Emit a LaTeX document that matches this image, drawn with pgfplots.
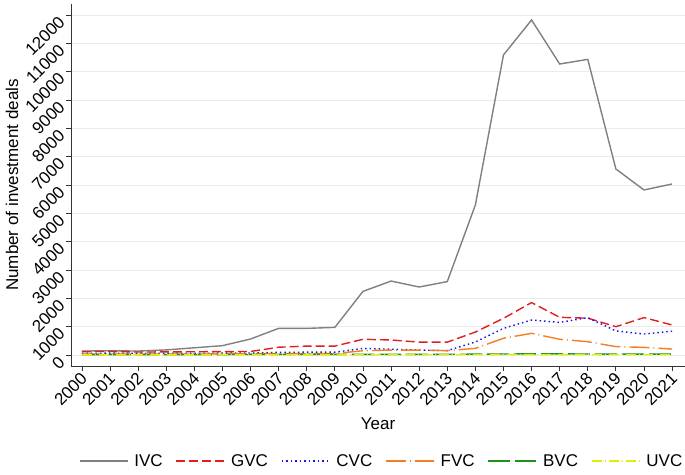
\documentclass[border=0pt]{standalone}
\usepackage{pgfplots}
\pgfplotsset{compat=1.18}
\usepackage{fontspec}
\setmainfont{Liberation Sans}
\definecolor{cIVC}{RGB}{128,128,128}
\definecolor{cGVC}{RGB}{225,30,30}
\definecolor{cCVC}{RGB}{20,20,240}
\definecolor{cFVC}{RGB}{245,125,35}
\definecolor{cBVC}{RGB}{30,145,30}
\definecolor{cUVC}{RGB}{225,240,0}
\definecolor{gridc}{RGB}{235,235,235}
\pgfplotstableread{
year IVC GVC CVC FVC BVC UVC
2000 140 120 60 30 15 5
2001 150 125 65 35 15 5
2002 140 105 60 30 15 5
2003 180 110 55 30 15 5
2004 255 115 60 35 15 5
2005 330 120 65 40 15 5
2006 565 125 70 45 20 5
2007 940 275 95 50 20 5
2008 940 315 100 50 20 5
2009 975 315 100 55 20 5
2010 2245 555 230 150 25 10
2011 2610 530 205 175 25 10
2012 2400 455 175 170 25 10
2013 2590 455 155 155 25 10
2014 5295 810 460 235 30 10
2015 10590 1295 940 590 35 15
2016 11825 1850 1235 765 40 15
2017 10270 1330 1150 555 40 15
2018 10435 1300 1320 470 35 15
2019 6565 1000 850 295 30 10
2020 5825 1320 740 270 30 10
2021 6035 1060 840 210 30 10
}\datatable
\newcommand{\fs}{\fontsize{17}{20}\selectfont}
\begin{document}
\begin{tikzpicture}
\begin{axis}[
  scale only axis,
  width=614pt, height=362pt,
  xmin=1999.61, xmax=2021.46,
  ymin=-388, ymax=12388,
  axis x line=bottom, axis y line=left,
  axis line style={-, line width=0.8pt, black!80},
  xtick={2000,2001,...,2021},
  ytick={0,1000,...,12000},
  scaled y ticks=false, scaled x ticks=false,
  tick align=outside,
  major tick length=5pt,
  tick style={line width=0.8pt, black!80},
  /pgf/number format/assume math mode=true,
  /pgf/number format/1000 sep={},
  xticklabel style={rotate=45, anchor=east, inner sep=1pt, font=\fs, yshift=-5pt, xshift=-1pt},
  yticklabel style={rotate=45, anchor=east, inner sep=1.5pt, font=\fs, xshift=-4.5pt},
  ymajorgrids, major grid style={gridc, line width=0.9pt},
  xlabel={Year}, ylabel={Number of investment deals},
  label style={font=\fs},
  xlabel style={at={(axis description cs:0.5,-0.160)}, anchor=center},
  ylabel style={at={(axis description cs:-0.0961,0.5)}, anchor=center, rotate=0},
  legend columns=-1,
  legend style={at={(axis description cs:0.506,-0.262)}, anchor=center, draw=none, font=\fs,
    /tikz/every odd column/.append style={column sep=4pt},
    /tikz/every even column/.append style={column sep=11pt}},
  legend image code/.code={\draw[#1] (0pt,0pt) -- (48pt,0pt);},
  every axis plot/.append style={line width=1.4pt},
  clip=false,
]
\addplot[cIVC, solid] table[x=year,y=IVC]{\datatable};
\addlegendentry{IVC}
\addplot[cGVC, dash pattern=on 9pt off 4pt] table[x=year,y=GVC]{\datatable};
\addlegendentry{GVC}
\addplot[cCVC, dash pattern=on 1.5pt off 3pt] table[x=year,y=CVC]{\datatable};
\addlegendentry{CVC}
\addplot[cFVC, dash pattern=on 20pt off 4pt on 1pt off 4pt] table[x=year,y=FVC]{\datatable};
\addlegendentry{FVC}
\addplot[cBVC, dash pattern=on 22pt off 5pt] table[x=year,y=BVC]{\datatable};
\addlegendentry{BVC}
\addplot[cUVC, dash pattern=on 10pt off 3pt on 1pt off 3pt] table[x=year,y=UVC]{\datatable};
\addlegendentry{UVC}
\coordinate (o) at (rel axis cs:0,0);
\end{axis}
\pgfresetboundingbox
\path (o) ++(-71pt,-108pt) rectangle ++(685pt,474pt);
\end{tikzpicture}
\end{document}
